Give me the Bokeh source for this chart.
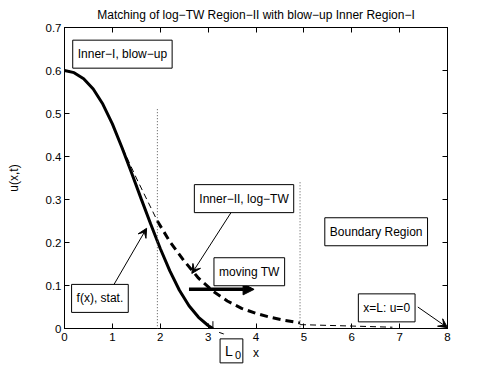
from bokeh.plotting import figure
from bokeh.models import Range1d, LinearAxis, FixedTicker, Label, Arrow, VeeHead, NormalHead
from bokeh.embed import file_html
from bokeh.resources import INLINE

# ---------------- data ----------------
title_text = "Matching of log\u2212TW Region\u2212II with blow\u2212up Inner Region\u2212I"
x_label = "x"
y_label = "u(x,t)"
x_ticks = [0, 1, 2, 3, 4, 5, 6, 7, 8]
x_tick_labels = ["0", "1", "2", "3", "4", "5", "6", "7", "8"]
y_ticks = [0, 0.1, 0.2, 0.3, 0.4, 0.5, 0.6, 0.7]
y_tick_labels = ["0", "0.1", "0.2", "0.3", "0.4", "0.5", "0.6", "0.7"]

# stationary profile f(x) (Inner Region-I)
f_x = [0.0, 0.2, 0.4, 0.6, 0.8, 1.0, 1.2, 1.4, 1.6, 1.8, 2.0, 2.2, 2.4, 2.6, 2.8, 3.0, 3.1]
f_u = [0.600, 0.595, 0.581, 0.557, 0.522, 0.476, 0.421, 0.362, 0.302, 0.243, 0.186, 0.134,
       0.089, 0.053, 0.026, 0.007, 0.0]

# thin dashed extension of the log-TW profile
ext_x = [1.13, 1.5, 1.94]
ext_u = [0.44, 0.35, 0.25]

# log-TW (Inner Region-II), thick dashed
tw_x = [1.94, 2.2, 2.5, 2.8, 3.1, 3.4, 3.7, 4.0, 4.3, 4.6, 4.92]
tw_u = [0.250, 0.202, 0.157, 0.117, 0.087, 0.064, 0.047, 0.035, 0.026, 0.019, 0.013]

# boundary region tail, thin dashed
bd_x = [4.92, 5.9, 6.85]
bd_u = [0.009, 0.006, 0.003]

# region dividers (dotted)
div_x = [1.94, 4.92]
div_top = [0.51, 0.34]
div_bottom = -0.063

L0 = 3.10
L0_box_x = 3.55
L0_box_u = -0.052

# text boxes: (text, x-centre, u-centre)
box_texts = ["Inner\u2212I, blow\u2212up", "Inner\u2212II, log\u2212TW", "moving TW",
             "Boundary Region", "x=L: u=0", "f(x), stat."]
box_x = [1.21, 3.75, 3.86, 6.51, 6.73, 0.74]
box_u = [0.638, 0.302, 0.132, 0.225, 0.048, 0.070]

# annotation arrows: start -> end
arr_x0 = [1.00, 3.51, 7.38, 3.51]
arr_u0 = [0.096, 0.275, 0.050, -0.020]
arr_x1 = [1.715, 2.66, 8.0, 3.23]
arr_u1 = [0.233, 0.128, 0.002, -0.009]

# moving TW arrow
mv_x = [2.60, 3.96]
mv_u = [0.091, 0.091]

FONT = "Liberation Sans"

p = figure(width=490, height=368, x_range=Range1d(0, 8), y_range=Range1d(0, 0.7),
           output_backend="svg", toolbar_location=None,
           min_border_left=64, min_border_right=43, min_border_top=27, min_border_bottom=40)
p.grid.visible = False
p.outline_line_color = "black"
p.background_fill_color = "white"
p.border_fill_color = "white"

xt = FixedTicker(ticks=x_ticks)
yt = FixedTicker(ticks=y_ticks)

for ax in p.xaxis:
    ax.ticker = xt
    ax.major_label_overrides = {t: l for t, l in zip(x_ticks, x_tick_labels)}
    ax.axis_label = x_label
    ax.axis_label_standoff = 2
    ax.major_label_standoff = 4
for ax in p.yaxis:
    ax.ticker = yt
    ax.major_label_overrides = {t: l for t, l in zip(y_ticks, y_tick_labels)}
    ax.axis_label = y_label
    ax.axis_label_standoff = 22
    ax.major_label_standoff = 3

for ax in p.xaxis + p.yaxis:
    ax.major_tick_in = 5
    ax.major_tick_out = 0
    ax.minor_tick_line_color = None
    ax.axis_line_color = "black"
    ax.major_tick_line_color = "black"
    ax.major_label_text_font = FONT
    ax.major_label_text_font_size = "11.5px"
    ax.major_label_text_color = "black"
    ax.axis_label_text_font = FONT
    ax.axis_label_text_font_size = "12px"
    ax.axis_label_text_font_style = "normal"
    ax.axis_label_text_color = "black"

for loc, tk in (("above", xt), ("right", yt)):
    a = LinearAxis(ticker=tk, major_tick_in=5, major_tick_out=0,
                   minor_tick_line_color=None, major_label_text_font_size="0px",
                   major_label_text_color=None,
                   major_label_standoff=0, axis_line_color="black",
                   major_tick_line_color="black")
    p.add_layout(a, loc)

# curves
p.line(f_x, f_u, line_color="black", line_width=3)
p.line(ext_x, ext_u, line_color="black", line_width=1, line_dash="6 4")
p.line(tw_x, tw_u, line_color="black", line_width=3, line_dash="8 5")
p.line(bd_x, bd_u, line_color="black", line_width=1, line_dash="6 4")

# annotations that reach outside the frame go into the right-hand side panel
# (side-panel annotations are not clipped to the frame)
SIDE = "right"

for dx, dt in zip(div_x, div_top):
    p.add_layout(Arrow(end=None, x_start=dx, y_start=dt, x_end=dx, y_end=div_bottom,
                       line_color="#555555", line_width=1, line_dash="1 2"), SIDE)

# L0 tick
p.add_layout(Arrow(end=None, x_start=L0, y_start=0.017, x_end=L0, y_end=-0.016,
                   line_color="black", line_width=1), SIDE)

# thin annotation arrows
for x0, u0, x1, u1 in zip(arr_x0, arr_u0, arr_x1, arr_u1):
    p.add_layout(Arrow(end=VeeHead(size=9, fill_color="black", line_color="black", line_width=1),
                       x_start=x0, y_start=u0, x_end=x1, y_end=u1,
                       line_color="black", line_width=1), SIDE)

# moving TW arrow
p.add_layout(Arrow(end=NormalHead(size=11, fill_color="black", line_color="black", line_width=1),
                   x_start=mv_x[0], y_start=mv_u[0], x_end=mv_x[1], y_end=mv_u[1],
                   line_color="black", line_width=3.5))

# text boxes
for t, bx, bu in zip(box_texts, box_x, box_u):
    p.add_layout(Label(x=bx, y=bu, text=t, text_align="center", text_baseline="middle",
                       text_font=FONT, text_font_size="12px", text_color="black",
                       border_line_color="black", border_line_width=1,
                       background_fill_color="white", padding=(5, 7)))

# L0 box (below the axis)
p.add_layout(Label(x=L0_box_x, y=L0_box_u, text="L", text_align="center", text_baseline="middle",
                   text_font=FONT, text_font_size="14px", text_color="black",
                   x_offset=-3,
                   border_line_color="black", border_line_width=1,
                   background_fill_color=None,
                   padding=dict(left=5, right=10, top=4, bottom=4)), SIDE)
p.add_layout(Label(x=L0_box_x, y=L0_box_u, text="0", text_align="center", text_baseline="middle",
                   text_font=FONT, text_font_size="11px", text_color="black",
                   x_offset=3.5, y_offset=-4.5), SIDE)

# title
p.add_layout(Label(x=4, y=0.728, text=title_text, text_align="center", text_baseline="middle",
                   text_font=FONT, text_font_size="12px", text_color="black"), "above")

open("out.html", "w").write(file_html(p, INLINE))
